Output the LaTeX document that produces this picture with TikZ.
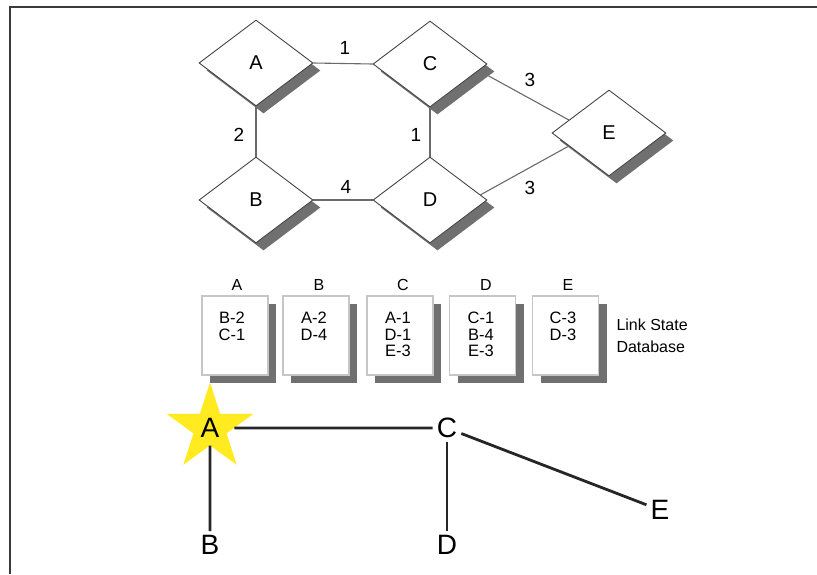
\documentclass[tikz,border=0pt]{standalone}
\usepackage{fontspec}
\setmainfont{Liberation Sans}
\usetikzlibrary{shapes.geometric,shadows,calc,backgrounds}
\definecolor{linkgray}{HTML}{6A6A6A}
\definecolor{rimgray}{HTML}{454545}
\definecolor{shadegray}{HTML}{707070}
\definecolor{pagegray}{HTML}{3A3A3A}
\definecolor{rootyellow}{HTML}{FFEB1F}
\tikzset{router/.style={diamond,draw=rimgray,line width=.9pt,fill=white,inner sep=0pt,minimum width=114pt,minimum height=86pt,font=\fontsize{20}{20}\selectfont,drop shadow={shadow xshift=7.5pt,shadow yshift=-7.5pt,opacity=1,fill=shadegray}}}
\tikzset{link/.style={linkgray,line width=1.1pt}}
\tikzset{cost/.style={font=\fontsize{19}{19}\selectfont}}
\tikzset{lsdb/.style={rectangle,draw=gray!45,line width=1.2pt,fill=white,minimum width=66pt,minimum height=79pt,inner sep=0pt,drop shadow={shadow xshift=8pt,shadow yshift=-8pt,opacity=1,fill=shadegray}}}
\tikzset{lsdbtext/.style={anchor=north,align=center,inner sep=0pt,font=\fontsize{16.5}{16.5}\selectfont}}
\tikzset{lsdbhead/.style={font=\fontsize{16}{16}\selectfont}}
\tikzset{spf/.style={font=\fontsize{28}{28}\selectfont,inner sep=4pt}}
\tikzset{branch/.style={line width=2.8pt,black!85}}

\begin{document}
\begin{tikzpicture}[x=1pt,y=-1pt]
\useasboundingbox(0,0)rectangle(817,574);
\draw[pagegray,line width=2pt](10,574)--(10,7)--(817,7);
% routers and link costs
\node[router](A)at(256,63){A};\node[router](C)at(430,64){C};
\node[router](B)at(256,200){B};\node[router](D)at(430,200){D};
\node[router](E)at(609,133){E};
\begin{scope}[on background layer]
\draw[link](A.east)--(C.west);\draw[link](A.south)--(B.north);\draw[link](C.south)--(D.north);\draw[link](B.east)--(D.west);
\draw[link]($(C.east)!.15!(C.south)$)--($(E.west)!.3!(E.north)$);\draw[link]($(D.east)!.12!(D.north)$)--($(E.west)!.3!(E.south)$);
\end{scope}
\node[cost](cAC)at(345,48){1};\node[cost](cAB)at(239,135){2};\node[cost](cCD)at(416,135){1};\node[cost](cBD)at(346,187){4};
\node[cost](cCE)at(530,80){3};\node[cost](cDE)at(530,188){3};
% link state database
\node[lsdb](dbA)at(235,335.5){};\node[lsdb](dbB)at(316,335.5){};\node[lsdb](dbC)at(400,335.5){};\node[lsdb](dbD)at(482.5,335.5){};\node[lsdb](dbE)at(565.5,335.5){};
\node[lsdbhead](hA)at(237,284.5){A};\node[lsdbhead](hB)at(319,284.5){B};\node[lsdbhead](hC)at(403,284.5){C};\node[lsdbhead](hD)at(486,284.5){D};\node[lsdbhead](hE)at(568,284.5){E};
\node[lsdbtext](tA)at(232,312){B-2\\C-1};\node[lsdbtext](tB)at(314,312){A-2\\D-4};\node[lsdbtext](tC)at(398,312){A-1\\D-1\\E-3};
\node[lsdbtext](tD)at(481,312){C-1\\B-4\\E-3};\node[lsdbtext](tE)at(563,312){C-3\\D-3};
\node[anchor=west,align=left,font=\fontsize{16}{22}\selectfont](note)at(613,336){Link State\\Database};
% shortest path tree from A
\node[star,star points=5,star point ratio=2.62,fill=rootyellow,minimum size=91pt,spf,inner sep=0pt](rA)at(210,428){A};
\node[spf](rC)at(447,428){C};\node[spf](rB)at(210,545){B};\node[spf](rD)at(447,545){D};\node[spf](rE)at(660,510){E};
\draw[branch](rA)--(rC);\draw[branch](rA)--(rB);\draw[branch](rC)--(rD);\draw[branch](rC)--(rE);
\end{tikzpicture}
\end{document}
